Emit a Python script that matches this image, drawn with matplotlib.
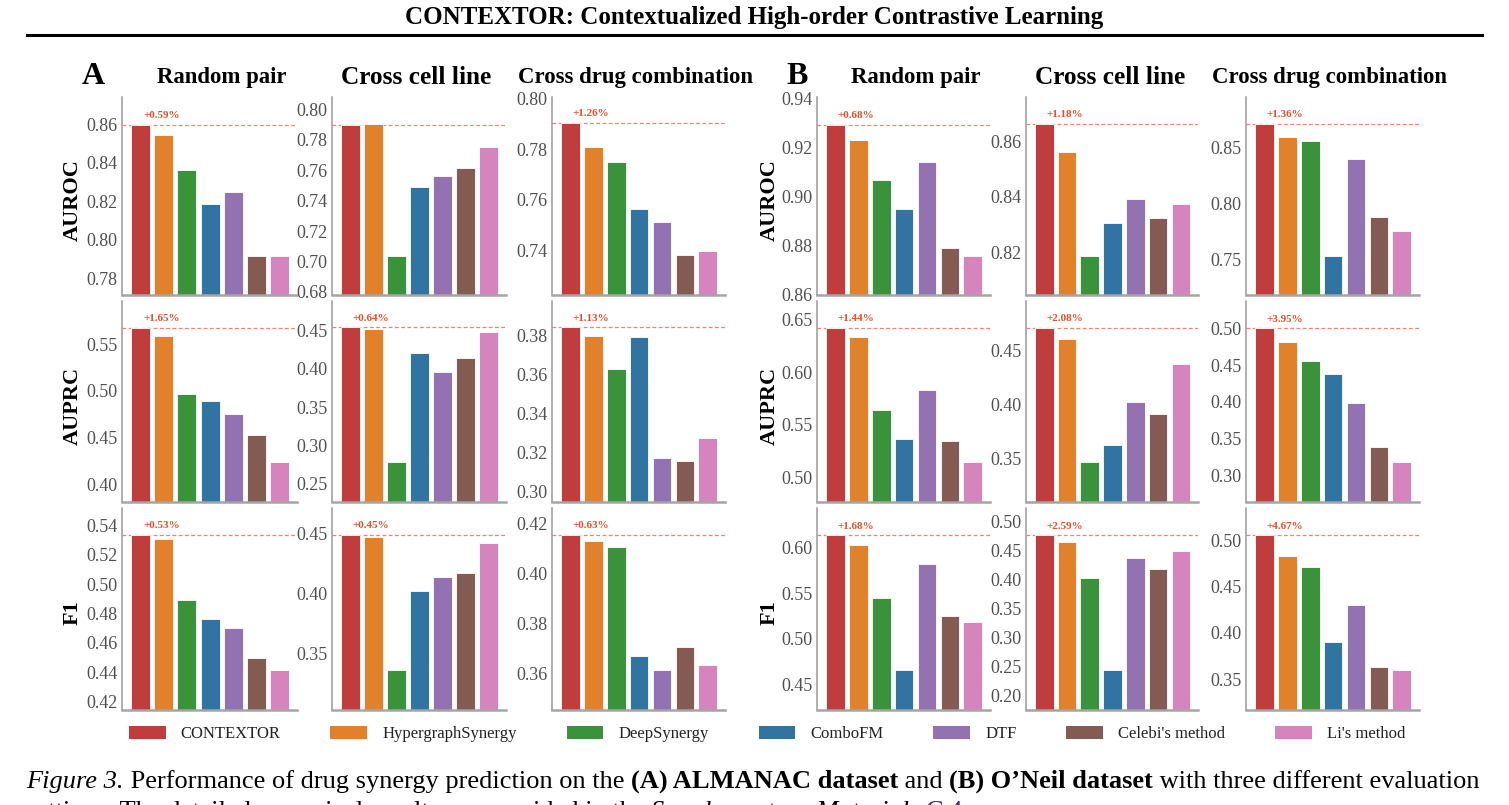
import numpy as np
import matplotlib; matplotlib.use("Agg")
import matplotlib.pyplot as plt
from matplotlib.patches import Patch
from matplotlib.lines import Line2D
from matplotlib.ticker import MultipleLocator, FormatStrFormatter

plt.rcParams['font.family'] = ['Liberation Serif', 'DejaVu Serif']

# ── data ──────────────────────────────────────────────────────────────────────
METHODS = ["CONTEXTOR", "HypergraphSynergy", "DeepSynergy", "ComboFM", "DTF",
           "Celebi's method", "Li's method"]
COLORS = ["#c03d3e", "#e1812c", "#3a923a", "#3274a1", "#9372b2", "#845b53", "#d684bd"]
SETTINGS = ["Random pair", "Cross cell line", "Cross drug combination"]
METRICS = ["AUROC", "AUPRC", "F1"]

# (A) ALMANAC: one row per setting (random pair, cross cell line, cross drug comb.)
almanac_auroc = [
    [0.8595, 0.8545, 0.8363, 0.8186, 0.8247, 0.7918, 0.7917],
    [0.7899, 0.7903, 0.7037, 0.7487, 0.7562, 0.7615, 0.7751],
    [0.7905, 0.7808, 0.7749, 0.7565, 0.7513, 0.7381, 0.7397],
]
almanac_auprc = [
    [0.5679, 0.5586, 0.4964, 0.4889, 0.4754, 0.4532, 0.4239],
    [0.4544, 0.4513, 0.2781, 0.4211, 0.3953, 0.4136, 0.4478],
    [0.3843, 0.3798, 0.3630, 0.3791, 0.3169, 0.3153, 0.3272],
]
almanac_f1 = [
    [0.5336, 0.5306, 0.4890, 0.4765, 0.4698, 0.4499, 0.4413],
    [0.4486, 0.4464, 0.3367, 0.4022, 0.4139, 0.4172, 0.4417],
    [0.4156, 0.4129, 0.4105, 0.3670, 0.3615, 0.3707, 0.3635],
]
# (B) O'Neil
oneil_auroc = [
    [0.9294, 0.9230, 0.9065, 0.8948, 0.9141, 0.8788, 0.8755],
    [0.8662, 0.8561, 0.8188, 0.8306, 0.8391, 0.8325, 0.8374],
    [0.8715, 0.8597, 0.8562, 0.7532, 0.8400, 0.7882, 0.7750],
]
oneil_auprc = [
    [0.6427, 0.6335, 0.5642, 0.5366, 0.5833, 0.5344, 0.5143],
    [0.4712, 0.4611, 0.3469, 0.3632, 0.4031, 0.3917, 0.4383],
    [0.5000, 0.4815, 0.4553, 0.4381, 0.3984, 0.3384, 0.3181],
]
oneil_f1 = [
    [0.6127, 0.6025, 0.5446, 0.4660, 0.5818, 0.5253, 0.5180],
    [0.4752, 0.4631, 0.4020, 0.2436, 0.4372, 0.4182, 0.4487],
    [0.5054, 0.4830, 0.4718, 0.3897, 0.4306, 0.3630, 0.3601],
]

# gain labels, [metric][setting]
almanac_gain = [["+0.59%", None, "+1.26%"],
                ["+1.65%", "+0.64%", "+1.13%"],
                ["+0.53%", "+0.45%", "+0.63%"]]
oneil_gain = [["+0.68%", "+1.18%", "+1.36%"],
              ["+1.44%", "+2.08%", "+3.95%"],
              ["+1.68%", "+2.59%", "+4.67%"]]

# ── axis ranges / tick steps, [metric][setting] ──────────────────────────────
almanac_ylim = [[(0.7714, 0.874), (0.678, 0.808), (0.7225, 0.8006)],
                [(0.381, 0.5964), (0.226, 0.4885), (0.2945, 0.3977)],
                [(0.4141, 0.5519), (0.3033, 0.4708), (0.3455, 0.4263)]]
almanac_step = [[0.02, 0.02, 0.02], [0.05, 0.05, 0.02], [0.02, 0.05, 0.02]]
oneil_ylim = [[(0.8596, 0.9407), (0.8047, 0.8759), (0.7182, 0.8953)],
              [(0.4765, 0.6681), (0.31, 0.4962), (0.2639, 0.537)],
              [(0.4227, 0.6426), (0.1747, 0.5225), (0.3167, 0.5351)]]
oneil_step = [[0.02, 0.02, 0.05], [0.05, 0.05, 0.05], [0.05, 0.05, 0.05]]

W, H = 1509, 805
fig = plt.figure(figsize=(W / 100, H / 100), dpi=100)
renderer = fig.canvas.get_renderer()

ROWS_PX = [(97, 295), (301, 502), (508, 710)]
COLS_PX = [[(122, 297), (332, 506), (552, 725)],
           [(817, 990), (1026, 1198), (1246, 1419)]]
TITLE_X = [[222, 416, 635], [916, 1110, 1330]]
TITLE_SIZE = [16.4, 18.2, 16.4]
LETTER_X = [93, 797]
YLABEL_X = [73, 770]


def px_box(x0, x1, y0, y1):
    return [x0 / W, 1 - y1 / H, (x1 - x0) / W, (y1 - y0) / H]


def draw_panel(ax, vals, ylim, step, gain):
    x = np.arange(len(vals))
    ax.bar(x, vals, width=0.82, color=COLORS, edgecolor="white", linewidth=0.6)
    ax.set_xlim(-0.8, 6.75)
    ax.set_ylim(*ylim)
    ax.yaxis.set_major_locator(MultipleLocator(step))
    ax.yaxis.set_major_formatter(FormatStrFormatter("%.2f"))
    ax.set_xticks([])
    ax.tick_params(axis="y", length=0, pad=3, labelsize=13, labelcolor="#505050")
    for s in ("top", "right"):
        ax.spines[s].set_visible(False)
    ax.spines["left"].set_color("#9a9a9a"); ax.spines["left"].set_linewidth(1.1)
    ax.spines["bottom"].set_color("#a5a5a5"); ax.spines["bottom"].set_linewidth(1.8)
    ax.axhline(vals[0], ls=(0, (3, 2)), color="#ec7050", lw=0.9, alpha=0.85, zorder=0.5)
    if gain:
        ax.annotate(gain, (0.9, vals[0]), xytext=(0, 6.5), textcoords="offset points",
                    ha="center", va="center", fontsize=8, fontweight="bold",
                    color="#e0502b")


datasets = [("A", [almanac_auroc, almanac_auprc, almanac_f1], almanac_ylim,
             almanac_step, almanac_gain),
            ("B", [oneil_auroc, oneil_auprc, oneil_f1], oneil_ylim,
             oneil_step, oneil_gain)]

for d, (letter, data, ylims, steps, gains) in enumerate(datasets):
    for r in range(3):
        for c in range(3):
            x0, x1 = COLS_PX[d][c]
            y0, y1 = ROWS_PX[r]
            ax = fig.add_axes(px_box(x0, x1, y0, y1))
            draw_panel(ax, data[r][c], ylims[r][c], steps[r][c], gains[r][c])
        yc = (ROWS_PX[r][0] + ROWS_PX[r][1]) / 2 + 4
        fig.text(YLABEL_X[d] / W, 1 - yc / H, METRICS[r], rotation=90, ha="center",
                 va="center", fontsize=16, fontweight="bold")
    for c in range(3):
        fig.text(TITLE_X[d][c] / W, 1 - 78 / H, SETTINGS[c], ha="center", va="center",
                 fontsize=TITLE_SIZE[c], fontweight="bold")
    fig.text(LETTER_X[d] / W, 1 - 77 / H, letter, ha="center", va="center",
             fontsize=23, fontweight="bold")

handles = [Patch(facecolor=col, edgecolor="none", label=m) for m, col in zip(METHODS, COLORS)]
fig.legend(handles=handles, ncol=7, loc="center", bbox_to_anchor=(767 / W, 1 - 734 / H),
           frameon=False, fontsize=12, handlelength=2.2, handleheight=0.8,
           handletextpad=0.9, columnspacing=3.0, labelcolor="#222222")


# ── page header / caption as mixed-style text lines ───────────────────────────
def piece_width(txt, size, **kw):
    t = fig.text(0, 0, txt + "|", fontsize=size, **kw)
    w1 = t.get_window_extent(renderer).width
    t.set_text("|")
    w2 = t.get_window_extent(renderer).width
    t.remove()
    return w1 - w2


def rich_line(pieces, x_px, y_px, size, target=None):
    if target:
        total = sum(piece_width(s, size, **kw) for s, kw in pieces)
        size = size * target / total
    x = x_px
    for s, kw in pieces:
        fig.text(x / W, 1 - y_px / H, s, fontsize=size, ha="left", va="baseline", **kw)
        x += piece_width(s, size, **kw)
    return size


fig.text(754 / W, 1 - 24 / H, "CONTEXTOR: Contextualized High-order Contrastive Learning",
         ha="center", va="baseline", fontsize=18, fontweight="bold")
fig.add_artist(Line2D([27 / W, 1482 / W], [1 - 35 / H, 1 - 35 / H], color="black", lw=2.2))

B = dict(fontweight="bold")
I = dict(fontstyle="italic")
N = dict()
cap = rich_line([("Figure 3.", I), (" Performance of drug synergy prediction on the ", N),
                 ("(A) ALMANAC dataset", B), (" and ", N), ("(B) O\u2019Neil dataset", B),
                 (" with three different evaluation", N)], 26, 788, 17, target=1456)
rich_line([("settings. The detailed numerical results are provided in the ", N),
           ("Supplementary Materials", I), (" ", N), ("C.4", dict(color="#2b2b9b")),
           (".", N)], 26, 818, cap)

fig.savefig("out.png", dpi=100)
